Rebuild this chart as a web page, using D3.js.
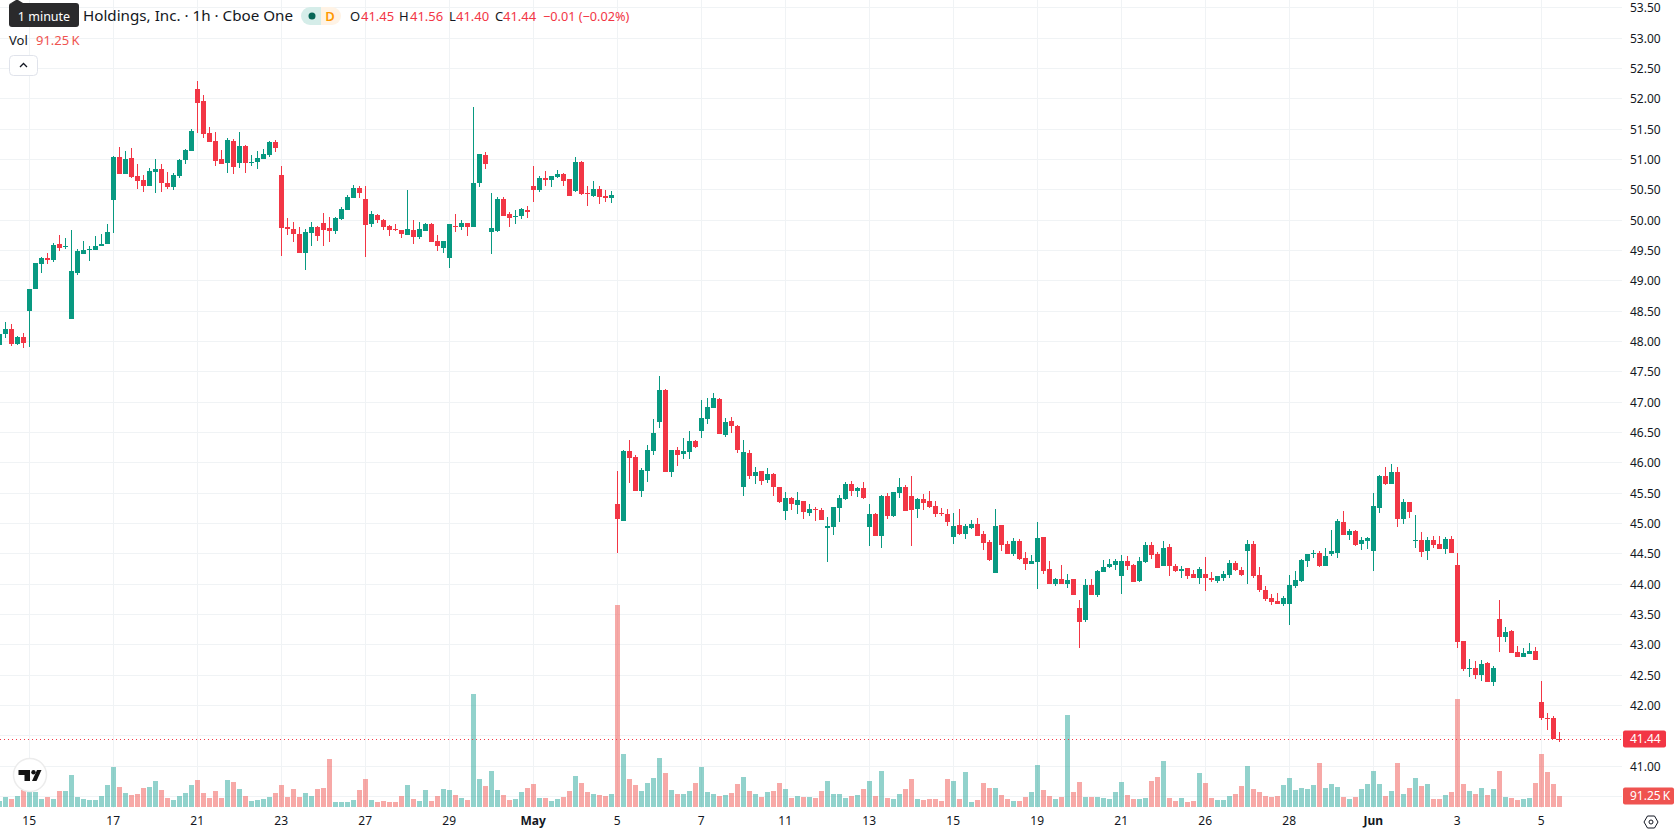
<!DOCTYPE html>
<html>
<head>
<meta charset="utf-8">
<title>Hourly candlestick chart</title>
<script src="https://cdn.jsdelivr.net/npm/d3@7"></script>
<style>
  html, body { margin: 0; padding: 0; background: #fff; overflow: hidden; }
  svg { display: block; font-family: "Noto Sans", sans-serif; }
</style>
</head>
<body>
<svg id="chart" width="1678" height="835"></svg>
<script>
// Hourly session bars, oldest first.
const opens = [
47.94,48.12,48.20,47.96,48.07,48.50,48.86,49.27,49.37,49.34,
49.60,49.56,48.37,49.13,49.44,49.51,49.51,49.57,49.60,50.33,
51.05,50.76,51.02,50.73,50.66,50.56,50.79,50.84,50.61,50.54,
50.73,50.99,51.14,52.16,51.96,51.43,51.30,51.01,50.94,51.30,
50.94,51.22,50.94,50.96,51.01,51.07,51.29,50.74,49.88,49.85,
49.77,49.46,49.79,49.88,49.95,49.87,49.82,50.02,50.17,50.36,
50.53,50.35,49.93,50.08,50.00,49.90,49.85,49.84,49.75,49.84,
49.72,49.82,49.93,49.65,49.55,49.37,49.90,49.88,49.95,49.88,
50.61,51.07,49.80,49.82,50.35,50.10,50.05,50.07,50.17,50.56,
50.49,50.69,50.66,50.71,50.76,50.68,50.48,50.96,50.45,50.40,
50.51,50.40,50.36,45.32,45.04,46.19,46.09,45.53,45.86,46.19,
46.67,47.20,45.85,46.21,46.14,46.18,46.36,46.52,46.72,46.90,
47.05,46.46,46.69,46.60,45.61,46.16,45.78,45.86,45.71,45.81,
45.61,45.20,45.42,45.30,45.37,45.17,45.24,45.22,44.92,44.94,
45.25,45.40,45.65,45.53,45.58,44.94,45.15,44.79,45.45,45.12,
45.50,45.61,45.45,45.24,45.40,45.37,45.29,45.17,45.15,44.78,
44.97,44.82,44.92,44.99,44.82,44.69,44.18,44.97,44.66,44.49,
44.71,44.43,44.33,44.36,44.78,44.25,44.00,44.08,44.00,44.08,
43.60,43.41,43.98,43.82,44.20,44.28,44.31,44.13,44.38,44.31,
44.05,44.36,44.64,44.49,44.30,44.61,44.30,44.21,44.26,44.16,
44.11,44.16,44.10,44.05,44.11,44.15,44.35,44.23,44.54,44.66,
44.15,43.90,43.77,43.72,43.67,43.67,43.97,44.05,44.38,44.49,
44.51,44.30,44.49,44.51,45.02,44.81,44.87,44.66,44.71,44.54,
45.25,45.78,45.65,45.85,45.07,45.35,44.71,44.73,44.54,44.73,
44.66,44.58,44.74,44.31,43.06,42.60,42.62,42.50,42.70,42.39,
43.42,43.13,43.23,42.88,42.80,42.85,42.90,42.05,41.79,41.79,41.45];

const highs = [
48.14,48.32,48.29,48.09,48.14,48.86,49.29,49.39,49.46,49.62,
49.75,49.70,49.84,49.52,49.65,49.57,49.74,49.77,49.93,51.06,
51.20,51.14,51.19,50.92,50.74,50.86,51.01,50.92,50.79,50.78,
51.01,51.17,51.50,52.29,52.06,51.53,51.45,51.15,51.35,51.34,
51.45,51.24,51.07,51.14,51.17,51.30,51.32,50.89,50.03,49.97,
49.88,49.85,49.97,49.90,50.12,50.05,50.05,50.21,50.41,50.58,
50.56,50.56,50.15,50.11,50.02,49.92,49.93,49.84,50.49,50.00,
49.97,49.95,49.95,49.75,49.65,49.93,50.10,50.00,49.95,51.86,
51.09,51.12,50.45,50.38,50.38,50.13,50.17,50.20,50.23,50.89,
50.73,50.81,50.73,50.82,50.78,50.68,51.05,50.97,50.56,50.64,
50.56,50.49,50.48,45.86,46.22,46.37,46.13,45.91,46.29,46.72,
47.44,47.21,46.21,46.26,46.41,46.52,46.37,47.03,47.07,47.15,
47.07,46.74,46.75,46.62,46.37,46.21,45.93,45.86,45.91,45.83,
45.61,45.52,45.43,45.52,45.37,45.32,45.27,45.25,45.10,45.27,
45.47,45.68,45.70,45.61,45.68,45.32,45.17,45.47,45.50,45.52,
45.75,45.63,45.78,45.42,45.48,45.53,45.37,45.25,45.24,45.17,
45.24,44.99,45.05,45.09,44.87,44.73,45.24,44.97,44.71,44.76,
44.74,44.53,44.48,45.02,44.78,44.38,44.11,44.31,44.16,44.08,
43.74,44.08,44.08,44.23,44.40,44.41,44.41,44.48,44.46,44.33,
44.45,44.69,44.69,44.53,44.71,44.66,44.33,44.30,44.26,44.23,
44.28,44.45,44.20,44.13,44.21,44.40,44.38,44.28,44.73,44.71,
44.28,43.97,43.83,43.85,43.80,44.15,44.21,44.41,44.49,44.56,
44.54,44.59,44.89,45.07,45.20,44.91,44.89,44.78,44.78,45.50,
45.80,45.93,45.98,45.93,45.40,45.35,45.14,44.86,44.78,44.79,
44.79,44.78,44.79,44.51,43.06,42.76,42.73,42.75,42.71,42.65,
43.74,43.29,43.24,42.98,42.95,43.03,42.96,42.40,41.87,41.82,41.56];

const lows = [
47.93,48.06,47.92,47.94,47.89,47.91,48.86,49.13,49.27,49.31,
49.49,49.52,48.37,49.09,49.44,49.32,49.51,49.57,49.60,49.79,
50.76,50.76,50.69,50.51,50.46,50.56,50.45,50.46,50.51,50.49,
50.69,50.92,51.14,51.43,51.35,51.29,50.89,50.92,50.78,50.76,
50.86,50.78,50.89,50.84,51.01,51.05,51.12,49.41,49.75,49.64,
49.46,49.18,49.57,49.65,49.57,49.64,49.77,50.00,50.17,50.36,
50.36,49.39,49.88,49.95,49.84,49.74,49.82,49.70,49.75,49.60,
49.69,49.82,49.64,49.50,49.46,49.22,49.80,49.84,49.74,49.88,
50.54,50.84,49.44,49.80,50.07,49.88,49.93,50.02,50.03,50.30,
50.46,50.56,50.54,50.69,50.56,50.40,50.46,50.41,50.23,50.38,
50.26,50.30,50.28,44.51,45.04,45.66,45.53,45.43,45.68,46.13,
46.57,45.85,45.76,45.94,46.06,46.06,46.24,46.41,46.64,46.90,
46.47,46.42,46.50,46.16,45.45,45.73,45.65,45.63,45.66,45.45,
45.33,45.05,45.22,45.15,45.07,45.12,45.04,45.05,44.36,44.81,
45.02,45.38,45.45,45.43,45.40,44.63,44.79,44.59,45.07,45.10,
45.42,45.20,44.63,45.09,45.22,45.25,45.10,45.12,44.96,44.66,
44.81,44.74,44.91,44.79,44.56,44.38,44.18,44.54,44.49,44.46,
44.40,44.23,44.33,43.92,44.16,44.00,43.97,44.00,43.93,43.82,
42.95,43.37,43.82,43.79,44.20,44.26,44.23,43.83,44.23,44.03,
44.03,44.35,44.41,44.26,44.30,44.13,44.20,44.10,44.08,44.11,
44.00,43.89,44.03,44.02,44.05,44.10,44.21,44.13,44.00,44.11,
43.87,43.72,43.65,43.67,43.64,43.32,43.93,44.03,44.28,44.43,
44.28,44.30,44.46,44.43,44.81,44.73,44.63,44.56,44.58,44.21,
45.17,45.63,45.65,44.94,44.99,45.09,44.59,44.45,44.40,44.59,
44.58,44.49,44.51,42.95,42.57,42.47,42.43,42.40,42.39,42.32,
42.88,43.04,42.86,42.80,42.80,42.85,42.75,41.76,41.59,41.45,41.40];

const closes = [
48.13,48.20,47.96,48.07,47.97,48.86,49.29,49.37,49.34,49.59,
49.55,49.57,49.16,49.49,49.51,49.52,49.57,49.60,49.80,51.04,
50.76,51.01,50.71,50.64,50.56,50.81,50.84,50.61,50.54,50.74,
50.99,51.15,51.47,51.93,51.42,51.29,50.97,50.92,51.32,50.87,
51.22,50.94,50.96,51.02,51.09,51.29,51.19,49.87,49.85,49.77,
49.46,49.80,49.88,49.74,49.84,49.82,50.03,50.18,50.38,50.53,
50.45,49.92,50.10,50.00,49.88,49.84,49.84,49.77,49.85,49.72,
49.85,49.93,49.64,49.57,49.65,49.93,49.88,49.95,49.88,50.61,
51.09,50.92,49.87,50.35,50.07,50.03,50.07,50.18,50.13,50.49,
50.69,50.66,50.73,50.76,50.64,50.40,50.96,50.43,50.43,50.51,
50.38,50.36,50.41,45.07,46.19,46.08,45.53,45.88,46.22,46.49,
47.20,45.85,46.21,46.13,46.19,46.36,46.26,46.74,46.92,47.07,
46.47,46.67,46.60,46.21,46.18,45.78,45.85,45.70,45.81,45.61,
45.35,45.42,45.32,45.38,45.19,45.24,45.22,45.05,44.96,45.27,
45.42,45.65,45.53,45.58,45.42,45.15,44.79,45.45,45.12,45.52,
45.61,45.20,45.22,45.40,45.34,45.27,45.15,45.15,45.02,44.96,
44.82,44.96,44.99,44.79,44.68,44.40,44.96,44.64,44.49,44.71,
44.41,44.33,44.38,44.76,44.21,44.00,44.08,44.00,44.07,43.82,
43.37,43.98,43.82,44.21,44.28,44.33,44.38,44.38,44.30,44.03,
44.38,44.64,44.48,44.26,44.59,44.30,44.21,44.25,44.13,44.11,
44.25,44.10,44.07,44.13,44.16,44.35,44.23,44.15,44.66,44.13,
43.90,43.75,43.70,43.67,43.77,43.98,44.07,44.40,44.49,44.51,
44.30,44.46,44.54,45.04,44.81,44.87,44.64,44.73,44.76,45.29,
45.78,45.65,45.85,45.07,45.35,45.19,44.73,44.53,44.73,44.64,
44.58,44.74,44.51,43.04,42.60,42.62,42.50,42.68,42.39,42.62,
43.13,43.21,42.86,42.80,42.86,42.90,42.75,41.79,41.77,41.45,41.44];

// Traded volume per bar, in thousands of shares.
const volumes = [
52,85,68,93,142,142,126,68,85,68,
134,134,266,85,68,60,60,93,184,332,
167,118,101,110,159,167,216,142,77,60,
93,118,184,225,118,77,134,77,225,208,
151,93,52,60,68,85,118,184,85,151,
85,118,93,151,159,397,44,44,44,60,
142,233,60,44,52,44,44,93,184,68,
52,142,52,93,151,142,101,77,60,932,
233,175,299,142,101,60,68,126,159,192,
74,74,49,66,82,132,255,197,123,107,
99,90,107,1660,436,230,181,132,197,238,
403,279,140,107,107,132,197,329,123,107,
90,99,115,189,247,132,107,82,123,132,
197,148,74,90,82,82,74,132,214,107,
107,74,90,99,148,214,90,296,74,66,
107,148,230,66,58,66,66,49,230,214,
66,288,41,58,197,156,156,99,66,49,
49,82,123,345,140,90,66,82,756,123,
206,82,82,82,73,65,122,204,98,65,
65,73,212,245,375,73,49,73,41,49,
277,196,73,57,57,90,106,171,335,147,
122,90,82,90,180,237,139,155,147,180,
359,155,188,163,82,65,82,147,188,294,
188,90,131,359,106,155,237,171,188,65,
65,98,122,889,188,131,106,155,98,147,
294,82,73,57,65,73,196,432,286,188,91.25];

// Price axis and time axis labels.
const priceTicks = [53.5,53,52.5,52,51.5,51,50.5,50,49.5,49,48.5,48,47.5,47,46.5,46,45.5,45,44.5,44,43.5,43,42.5,42,41.5,41];
const gridPrices = [...priceTicks, 40.5];
const timeLabels = ["15","17","21","23","27","29","May","5","7","11","13","15","19","21","26","28","Jun","3","5"];
const boldLabels = ["May","Jun"];
const firstLabelledBar = 5;
const barsPerLabel = 14;

const lastClose = closes[closes.length - 1];
const lastVolumeLabel = "91.25\u2009K";
const legendQuote = [["O", "41.45", 350, 361], ["H", "41.56", 399, 410], ["L", "41.40", 449, 456], ["C", "41.44", 495, 503]];

const UP = "#089981", DOWN = "#F23645";
const VOL_UP = "rgba(38,166,154,0.5)", VOL_DOWN = "rgba(239,83,80,0.5)";
const GRID = "#f0f3f5", INK = "#131722";

const plotRight = 1622, plotBottom = 808;
const svg = d3.select("#chart");

const x = d3.scaleLinear().domain([0, 260]).range([-0.5, 1559.5]);
const y = d3.scaleLinear().domain([42, 53.5]).range([705.5, 7.9]);
const yVol = d3.scaleLinear().domain([0, 1660]).range([807, 605]);

const bars = d3.range(closes.length).map(i => ({
  i, o: opens[i], h: highs[i], l: lows[i], c: closes[i], v: volumes[i], up: closes[i] >= opens[i]
}));

// Grid lines sit on whole pixels so they stay one pixel wide.
const snap = v => Math.round(v - 0.5) + 0.5;
const labelBars = timeLabels.map((_, k) => firstLabelledBar + k * barsPerLabel);

const grid = svg.append("g").attr("stroke", GRID).attr("stroke-width", 1);
grid.selectAll("line.h").data(gridPrices).join("line").attr("class", "h")
  .attr("x1", 0).attr("x2", plotRight).attr("y1", d => snap(y(d))).attr("y2", d => snap(y(d)));
grid.selectAll("line.v").data(labelBars).join("line").attr("class", "v")
  .attr("x1", d => snap(x(d))).attr("x2", d => snap(x(d))).attr("y1", 0).attr("y2", plotBottom);

// Volume histogram along the bottom of the pane.
svg.append("g").attr("shape-rendering", "crispEdges")
  .selectAll("rect").data(bars).join("rect")
  .attr("x", d => x(d.i) - 2.5).attr("width", 5)
  .attr("y", d => yVol(d.v)).attr("height", d => yVol(0) - yVol(d.v))
  .attr("fill", d => d.up ? VOL_UP : VOL_DOWN);

// Last price marker.
svg.append("line")
  .attr("x1", 0).attr("x2", plotRight)
  .attr("y1", snap(y(lastClose))).attr("y2", snap(y(lastClose)))
  .attr("stroke", DOWN).attr("stroke-width", 1).attr("stroke-dasharray", "1 3");

// Candles: wick first, body on top.
const candles = svg.append("g").attr("shape-rendering", "crispEdges")
  .selectAll("g").data(bars).join("g")
  .attr("fill", d => d.up ? UP : DOWN);
candles.append("rect")
  .attr("x", d => x(d.i) - 0.5).attr("width", 1)
  .attr("y", d => y(d.h)).attr("height", d => Math.max(1, y(d.l) - y(d.h)));
candles.append("rect")
  .attr("x", d => x(d.i) - 2.5).attr("width", 5)
  .attr("y", d => y(Math.max(d.o, d.c)))
  .attr("height", d => Math.max(1, Math.abs(y(d.o) - y(d.c))));

// Price axis.
const priceAxis = d3.axisRight(y).tickValues(priceTicks).tickSize(0).tickPadding(0).tickFormat(d3.format(".2f"));
svg.append("g").attr("transform", "translate(1630,0)").call(priceAxis)
  .call(g => g.select(".domain").remove())
  .call(g => g.selectAll("text").attr("font-family", "'Noto Sans', sans-serif").attr("font-size", 12).attr("fill", INK));

// Time axis, nudged left of the grid by the half pixel its labels sit off centre.
const timeAxis = d3.axisBottom(x).tickValues(labelBars).tickSize(0).tickPadding(0)
  .tickFormat((d, k) => timeLabels[k]);
svg.append("g").attr("transform", "translate(-0.8,816)").call(timeAxis)
  .call(g => g.select(".domain").remove())
  .call(g => g.selectAll("text")
    .attr("font-family", "'Noto Sans', sans-serif").attr("font-size", 12).attr("fill", INK)
    .attr("font-weight", (d, k) => boldLabels.includes(timeLabels[k]) ? 700 : 400));

// Badges on the price scale.
function badge(cy, width, fill, label) {
  svg.append("rect").attr("x", 1623).attr("y", cy - 8.5).attr("width", width).attr("height", 17).attr("rx", 2).attr("fill", fill);
  svg.append("text").attr("x", 1630).attr("y", cy).attr("dy", "0.36em")
    .attr("font-size", 12).attr("fill", "#fff").text(label);
}
badge(Math.round(y(lastClose)), 43, DOWN, d3.format(".2f")(lastClose));
badge(yVol(volumes[volumes.length - 1]), 51, "#ef5350", lastVolumeLabel);

// Scale settings button.
const gear = svg.append("g").attr("transform", "translate(1651,822)").attr("fill", "none").attr("stroke", INK).attr("stroke-width", 1);
gear.append("path").attr("d", "M-7 0L-3.5 -6H3.5L7 0L3.5 6H-3.5Z");
gear.append("circle").attr("r", 2);

// Legend row.
const legend = svg.append("g").attr("font-size", 14);
legend.append("text").attr("x", 83).attr("y", 16).attr("dy", "0.36em").attr("font-size", 15.2).attr("fill", INK)
  .text("Holdings, Inc. · 1h · Cboe One");

legend.append("path").attr("d", "M321 7H310a9 9 0 0 0 0 18H321Z").attr("fill", "#d5ede9");
legend.append("path").attr("d", "M321 7H332a9 9 0 0 1 0 18H321Z").attr("fill", "#fff3e5");
legend.append("circle").attr("cx", 312).attr("cy", 16).attr("r", 3.5).attr("fill", "#056656");
legend.append("text").attr("x", 330).attr("y", 16).attr("dy", "0.36em").attr("text-anchor", "middle")
  .attr("font-size", 13).attr("font-weight", 600).attr("fill", "#ff9800").text("D");

legendQuote.forEach(([key, value, kx, vx]) => {
  legend.append("text").attr("x", kx).attr("y", 16).attr("dy", "0.36em").attr("font-size", 13).attr("fill", INK).text(key);
  legend.append("text").attr("x", vx).attr("y", 16).attr("dy", "0.36em").attr("font-size", 13).attr("fill", DOWN).text(value);
});
legend.append("text").attr("x", 543).attr("y", 16).attr("dy", "0.36em").attr("font-size", 12.7).attr("fill", DOWN)
  .text("−0.01 (−0.02%)");

legend.append("text").attr("x", 9).attr("y", 40).attr("dy", "0.36em").attr("font-size", 13).attr("fill", INK).text("Vol");
legend.append("text").attr("x", 36).attr("y", 40).attr("dy", "0.36em").attr("font-size", 13).attr("fill", "#ef5350").text(lastVolumeLabel);

// Collapse button under the legend.
svg.append("rect").attr("x", 9.5).attr("y", 55.5).attr("width", 28).attr("height", 20).attr("rx", 4)
  .attr("fill", "#fff").attr("stroke", "#e0e3eb");
svg.append("path").attr("d", "M20 67L23.5 63.5L27 67").attr("fill", "none").attr("stroke", INK).attr("stroke-width", 1.3);

// Hover tooltip on the interval control.
svg.append("path").attr("d", "M11 3L16 0H18L23 3Z").attr("fill", "#2a2a2c");
svg.append("rect").attr("x", 9).attr("y", 3).attr("width", 70).attr("height", 24).attr("rx", 3).attr("fill", "#2a2a2c");
svg.append("text").attr("x", 44).attr("y", 16).attr("dy", "0.36em").attr("text-anchor", "middle")
  .attr("font-size", 12.5).attr("fill", "#fff").text("1 minute");

// Watermark badge.
const mark = svg.append("g");
mark.append("circle").attr("cx", 30).attr("cy", 775).attr("r", 16.5).attr("fill", "#fff").attr("stroke", "#ececec").attr("stroke-width", 1.5);
mark.append("path").attr("fill", "#131313").attr("d", "M18.5 770H30V781H24.5V775H18.5Z");
mark.append("circle").attr("cx", 33.5).attr("cy", 772.2).attr("r", 2.2).attr("fill", "#131313");
mark.append("path").attr("fill", "#131313").attr("d", "M37 770H41.5L36.5 781H32Z");
</script>
</body>
</html>
